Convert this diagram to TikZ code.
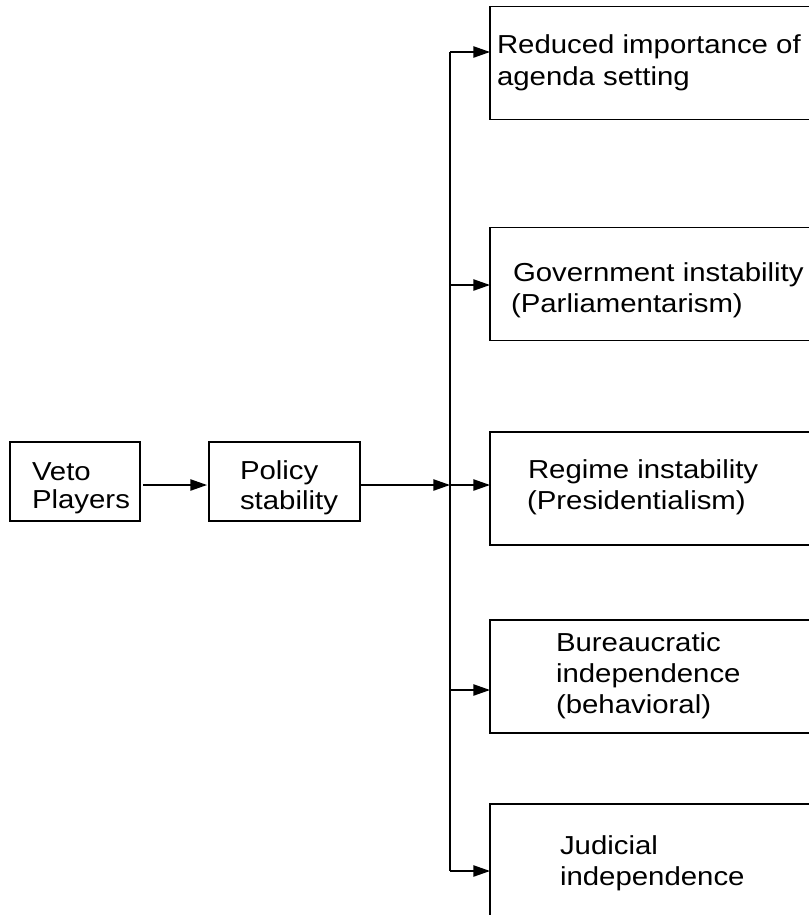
\documentclass[tikz,border=0pt]{standalone}
\usepackage{fontspec}
\setmainfont{Liberation Sans}[FakeStretch=1.13]
\usetikzlibrary{arrows.meta}
\begin{document}
\begin{tikzpicture}[x=0.75pt,y=-0.75pt,
  box/.style={draw, line width=1.2pt, inner sep=0pt, outer sep=0pt},
  vetobox/.style={box, minimum width=97.5pt, minimum height=59.25pt},
  polbox/.style={box, minimum width=113.25pt, minimum height=59.25pt},
  rightbox/.style={box, minimum width=247.5pt, minimum height=84.5pt},
  txt/.style={anchor=base west, inner sep=0pt, outer sep=0pt, font=\fontsize{19.5pt}{24pt}\selectfont},
  conn/.style={line width=1pt},
  arr/.style={conn, -{Triangle[length=12.5pt,width=8.5pt]}}]
\path[use as bounding box, clip] (0,0) rectangle (809,915);
\fill[white] (0,0) rectangle (809,915);

% left boxes
\node[vetobox] (vp) at (75,481.5) {};
\node[polbox] (pol) at (284.5,481.5) {};
\node[txt] (vp1) at (32,480) {Veto};
\node[txt] (vp2) at (32,508) {Players};
\node[txt] (pol1) at (240,479) {Policy};
\node[txt] (pol2) at (240,509) {stability};

% right boxes
\node[rightbox] (b1) at (655,63) {};
\node[rightbox] (b2) at (655,284) {};
\node[rightbox] (b3) at (655,488.5) {};
\node[rightbox] (b4) at (655,676.5) {};
\node[rightbox] (b5) at (655,860.5) {};

\node[txt] (t1a) at (497,53) {Reduced importance of};
\node[txt] (t1b) at (497,85) {agenda setting};
\node[txt] (t2a) at (513,281) {Government instability};
\node[txt] (t2b) at (511,312) {(Parliamentarism)};
\node[txt] (t3a) at (528,478) {Regime instability};
\node[txt] (t3b) at (527,509) {(Presidentialism)};
\node[txt] (t4a) at (556,651) {Bureaucratic};
\node[txt] (t4b) at (556,682) {independence};
\node[txt] (t4c) at (556,713) {(behavioral)};
\node[txt] (t5a) at (560,854) {Judicial};
\node[txt] (t5b) at (560,885) {independence};

% bus junctions
\coordinate (j1) at (450,52);
\coordinate (j2) at (450,285);
\coordinate (j3) at (450,485);
\coordinate (j4) at (450,690);
\coordinate (j5) at (450,871);

% connectors
\draw[arr, shorten <=2.25pt, shorten >=1.5pt] (vp.east |- 0,485) coordinate (va) -- (va -| pol.west);
\draw[arr] (pol.east |- j3) -- (j3);
\draw[conn] (j1) -- (j5);
\draw[arr] (j1) -- (j1 -| b1.west);
\draw[arr] (j2) -- (j2 -| b2.west);
\draw[arr] (j3) -- (j3 -| b3.west);
\draw[arr] (j4) -- (j4 -| b4.west);
\draw[arr] (j5) -- (j5 -| b5.west);
\end{tikzpicture}
\end{document}
